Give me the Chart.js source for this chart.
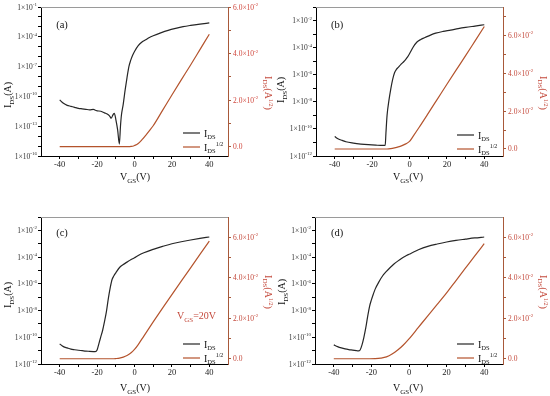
<!DOCTYPE html>
<html>
<head>
<meta charset="utf-8">
<script src="https://cdn.jsdelivr.net/npm/chart.js@4/dist/chart.umd.min.js"></script>
<style>
  body { margin: 0; background: #fff; }
  .painel { position: absolute; width: 275px; height: 198px; }
</style>
</head>
<body>
<div class="painel" style="left:0;top:0"><canvas id="graficoA" width="275" height="198"></canvas></div>
<div class="painel" style="left:275px;top:0"><canvas id="graficoB" width="275" height="198"></canvas></div>
<div class="painel" style="left:0;top:198px"><canvas id="graficoC" width="275" height="198"></canvas></div>
<div class="painel" style="left:275px;top:198px"><canvas id="graficoD" width="275" height="198"></canvas></div>
<script>
// ---- dados ----
const vgsA = [-40,-38,-36,-34,-32,-30,-28,-26,-24,-22,-21,-20,-18,-16,-14,-13,-12.5,-11.5,-10.8,-10,-9,-8.1,-7.5,-7,-6,-5,-4,-3,-2,-1,0,2,4,6,8,10,14,18,22,26,30,35,40];
const idsA = [4.5e-11,2.0e-11,1.26e-11,1.0e-11,7.9e-12,6.3e-12,5.6e-12,5.0e-12,4.5e-12,5.0e-12,4.0e-12,3.5e-12,3.2e-12,2.2e-12,1.4e-12,8.9e-13,6.3e-13,1.4e-12,2.0e-12,5.0e-13,4.0e-14,1.6e-15,1.0e-13,1.26e-12,1.8e-11,4.5e-10,7.9e-9,1.0e-7,4.5e-7,1.4e-6,3.3e-6,1.26e-5,2.95e-5,5.0e-5,8.5e-5,1.26e-4,2.5e-4,4.5e-4,7.1e-4,1.05e-3,1.4e-3,1.9e-3,2.5e-3];
const vgsRaizA = [-40,-10,-3,-2,-1,0,2,4,6,8,10,15,20,25,30,35,40];
const raizA = [0,0,0,0.0001,0.0002,0.0005,0.0014,0.003,0.0049,0.0069,0.009,0.0156,0.0222,0.0287,0.0351,0.0417,0.0483];

const vgsB = [-40,-38,-36,-34,-30,-26,-22,-18,-14,-13,-12.6,-12,-11,-10,-9,-8,-7,-6,-4.7,-3,-2,-1,0,2,4,6,8,10,14,18,22,26,30,35,40];
const idsB = [2.75e-11,1.78e-11,1.41e-11,1.12e-11,8.9e-12,7.6e-12,6.8e-12,6.3e-12,6.0e-12,6.0e-12,5.0e-11,1.0e-9,1.26e-8,8.9e-8,4.5e-7,1.4e-6,2.5e-6,3.5e-6,5.6e-6,9.5e-6,1.38e-5,2.1e-5,3.5e-5,1.12e-4,2.6e-4,4.0e-4,5.4e-4,7.1e-4,1.17e-3,1.58e-3,1.95e-3,2.5e-3,3.1e-3,3.9e-3,4.9e-3];
const vgsRaizB = [-40,-12,-10,-8,-6,-4,-2,0,2,5,10,15,20,25,30,35,40];
const raizB = [0,0,0.0002,0.0006,0.0011,0.0018,0.0027,0.004,0.0068,0.0112,0.0188,0.0265,0.0342,0.0418,0.0493,0.057,0.0647];

const vgsC = [-40,-38,-36,-34,-32,-30,-28,-26,-24,-22,-21,-20,-19,-18,-17,-16,-15,-14,-13,-12,-11,-10,-8,-6,-4,-2,0,2,5,10,15,20,25,30,35,40];
const idsC = [3.2e-11,2.0e-11,1.6e-11,1.3e-11,1.17e-11,1.07e-11,1.0e-11,9.3e-12,8.9e-12,8.5e-12,8.3e-12,1.12e-11,3.5e-11,1.12e-10,3.5e-10,1.6e-9,8.7e-9,7.9e-8,5.0e-7,2.1e-6,4.0e-6,6.6e-6,1.66e-5,2.8e-5,4.2e-5,6.3e-5,8.9e-5,1.32e-4,2.1e-4,3.8e-4,6.3e-4,1.0e-3,1.41e-3,1.9e-3,2.5e-3,3.2e-3];
const vgsRaizC = [-40,-12,-10,-8,-6,-4,-2,0,2,5,10,15,20,25,30,35,40];
const raizC = [0,0,0.0001,0.0003,0.0008,0.0016,0.0028,0.0046,0.007,0.0112,0.0182,0.025,0.0317,0.0383,0.0449,0.0515,0.0581];

const vgsD = [-40,-38,-36,-34,-32,-30,-28,-27,-26,-25,-24,-23,-22,-21,-20,-19,-18,-16,-14,-12,-10,-8,-6,-4,-2,0,2,5,10,15,20,25,30,35,40];
const idsD = [2.7e-11,2.0e-11,1.6e-11,1.35e-11,1.2e-11,1.1e-11,1.0e-11,9.5e-12,1.12e-11,2.7e-11,1.0e-10,5.0e-10,3.5e-9,2.0e-8,6.3e-8,1.66e-7,4.0e-7,1.4e-6,4.0e-6,8.5e-6,1.66e-5,3.0e-5,5.0e-5,7.9e-5,1.17e-4,1.62e-4,2.2e-4,3.5e-4,6.3e-4,9.5e-4,1.35e-3,1.78e-3,2.2e-3,2.7e-3,3.2e-3];
const vgsRaizD = [-40,-21,-18,-15,-12,-9,-6,-3,0,5,10,15,20,25,30,35,40];
const raizD = [0,0,0.00005,0.0003,0.0009,0.0023,0.0043,0.0068,0.0098,0.0155,0.0212,0.0268,0.0325,0.0386,0.0447,0.0508,0.0568];

// ticks
const ticksX = [-40,-30,-20,-10,0,10,20,30,40];
const rotulosX = [-40,-20,0,20,40];
const expoentesA = [-16,-15,-14,-13,-12,-11,-10,-9,-8,-7,-6,-5,-4,-3,-2,-1];
const rotulosExpA = [-16,-13,-10,-7,-4,-1];
const expoentesBCD = [-12,-11,-10,-9,-8,-7,-6,-5,-4,-3,-2,-1];
const rotulosExpBCD = [-12,-10,-8,-6,-4,-2];
const ticksRaiz = [0,0.01,0.02,0.03,0.04,0.05,0.06];
const ticksRaizB = [0,0.01,0.02,0.03,0.04,0.05,0.06,0.07];
const rotulosRaiz = [0.06,0.04,0.02];

const fonte = '"Liberation Serif", "Times New Roman", serif';
const corPreta = '#262626';
const corLinhaVermelha = '#b4532c';
const corEixoDireito = '#a8593a';
const corTextoVermelho = '#c44a3c';

// desenha pedacos [texto, tamanho, deslocamento] em sequencia
function desenharTexto(ctx, partes, x, y, opt) {
  ctx.save();
  ctx.translate(x, y);
  if (opt.rot) ctx.rotate(opt.rot);
  let largura = 0;
  partes.forEach(p => { ctx.font = p[1] + 'px ' + fonte; largura += ctx.measureText(p[0]).width; });
  let cx = opt.align === 'right' ? -largura : (opt.align === 'center' ? -largura / 2 : 0);
  ctx.fillStyle = opt.cor;
  ctx.textBaseline = 'alphabetic';
  partes.forEach(p => {
    ctx.font = p[1] + 'px ' + fonte;
    ctx.fillText(p[0], cx, p[2] || 0);
    cx += ctx.measureText(p[0]).width;
  });
  ctx.restore();
}

const decoracao = {
  id: 'decoracao',
  afterDraw(chart) {
    const p = chart.config.options.plugins.decoracao;
    const { ctx, chartArea: a, scales } = chart;
    ctx.save();
    // linha de cima
    ctx.strokeStyle = '#9a9a9a';
    ctx.lineWidth = 1;
    ctx.beginPath();
    ctx.moveTo(a.left, a.top + 0.5);
    ctx.lineTo(a.right, a.top + 0.5);
    ctx.stroke();

    // rotulos eixo log
    p.rotulosExp.forEach(e => {
      const y = scales.y.getPixelForValue(Math.pow(10, e));
      desenharTexto(ctx, [['1×10', 7.5, 0], [String(e), 5, -3.5]], a.left - 4, y + 2.5, { align: 'right', cor: '#333' });
    });
    // rotulos eixo direito
    rotulosRaiz.forEach(v => {
      const y = scales.y1.getPixelForValue(v);
      desenharTexto(ctx, [[(v * 100).toFixed(1) + '×10', 7.5, 0], ['-2', 5, -3.5]], a.right + 5, y + 2.5, { cor: p.corRotulos });
    });
    desenharTexto(ctx, [['0.0', 7.5, 0]], a.right + 5, scales.y1.getPixelForValue(0) + 2.5, { cor: p.corRotulos });

    // titulos
    desenharTexto(ctx, [['V', 10, 0], ['GS', 7, 2.5], ['(V)', 10, 0]], p.tituloX[0], p.tituloX[1], { align: 'center', cor: '#111' });
    desenharTexto(ctx, [['I', 10, 0], ['DS', 7, 2.5], ['(A)', 10, 0]], p.tituloY[0], p.tituloY[1], { align: 'center', rot: -Math.PI / 2, cor: '#111' });
    desenharTexto(ctx, [['I', 10, 0], ['DS', 7, 2.5], ['(A', 10, 0], ['1/2', 6, -4], [')', 10, 0]], p.tituloY1[0], p.tituloY1[1], { align: 'center', rot: Math.PI / 2, cor: corTextoVermelho });

    // letra do painel
    desenharTexto(ctx, [[p.letra, 10.5, 0]], p.posLetra[0], p.posLetra[1], { align: 'center', cor: '#111' });

    // legenda
    const [lx, ly] = p.legenda;
    ctx.lineWidth = 1.2;
    ctx.strokeStyle = corPreta;
    ctx.beginPath(); ctx.moveTo(lx, ly); ctx.lineTo(lx + 17, ly); ctx.stroke();
    ctx.strokeStyle = corLinhaVermelha;
    ctx.beginPath(); ctx.moveTo(lx, ly + 14); ctx.lineTo(lx + 17, ly + 14); ctx.stroke();
    desenharTexto(ctx, [['I', 10, 0], ['DS', 6.5, 2.5]], lx + 21, ly + 3.5, { cor: '#111' });
    desenharTexto(ctx, [['I', 10, 0], ['DS', 6.5, 2.5], ['1/2', 6, -4.5]], lx + 21, ly + 17.5, { cor: '#111' });

    if (p.extra) {
      desenharTexto(ctx, [['V', 10, 0], ['GS', 7, 2.5], ['=20V', 10, 0]], p.extra[0], p.extra[1], { cor: corTextoVermelho });
    }
    ctx.restore();
  }
};

function montarGrafico(p) {
  const ctx = document.getElementById(p.id).getContext('2d');
  return new Chart(ctx, {
    type: 'line',
    data: {
      datasets: [
        {
          label: 'IDS',
          data: p.vgs.map((v, i) => ({ x: v, y: p.ids[i] })),
          yAxisID: 'y',
          borderColor: corPreta,
          borderWidth: 1.2,
          pointRadius: 0,
          cubicInterpolationMode: 'monotone'
        },
        {
          label: 'IDS1/2',
          data: p.vgsRaiz.map((v, i) => ({ x: v, y: p.raiz[i] })),
          yAxisID: 'y1',
          borderColor: corLinhaVermelha,
          borderWidth: 1.2,
          pointRadius: 0,
          cubicInterpolationMode: 'monotone'
        }
      ]
    },
    options: {
      responsive: false,
      animation: false,
      layout: { padding: { top: p.area.top, left: 0, right: 0, bottom: 0 } },
      plugins: {
        legend: { display: false },
        tooltip: { enabled: false },
        decoracao: p
      },
      scales: {
        x: {
          type: 'linear',
          min: -50,
          max: 50,
          afterBuildTicks: s => { s.ticks = ticksX.map(v => ({ value: v })); },
          afterFit: s => { s.height = 198 - p.area.bottom; },
          ticks: {
            autoSkip: false,
            maxRotation: 0,
            padding: 1,
            color: '#222',
            font: { family: fonte, size: 8.5 },
            callback: v => rotulosX.includes(v) ? String(v) : ''
          },
          grid: { drawOnChartArea: false, tickLength: 3, color: '#000' },
          border: { color: '#000', width: 1 }
        },
        y: {
          type: 'logarithmic',
          position: 'left',
          min: p.logMin,
          max: 1e-1,
          afterBuildTicks: s => { s.ticks = p.expoentes.map(e => ({ value: Math.pow(10, e) })); },
          afterFit: s => { s.width = p.area.left; },
          ticks: { display: false },
          grid: { drawOnChartArea: false, tickLength: 3, color: '#000' },
          border: { color: '#000', width: 1 }
        },
        y1: {
          type: 'linear',
          position: 'right',
          min: p.raizMin,
          max: p.raizMax,
          afterBuildTicks: s => { s.ticks = p.ticksRaiz.map(v => ({ value: v })); },
          afterFit: s => { s.width = 275 - p.area.right; },
          ticks: { display: false },
          grid: { drawOnChartArea: false, tickLength: 3, color: corEixoDireito },
          border: { color: corEixoDireito, width: 1 }
        }
      }
    },
    plugins: [decoracao]
  });
}

montarGrafico({
  id: 'graficoA', letra: '(a)', vgs: vgsA, ids: idsA, vgsRaiz: vgsRaizA, raiz: raizA,
  logMin: 1e-16, expoentes: expoentesA, rotulosExp: rotulosExpA,
  raizMin: -0.004, raizMax: 0.06, ticksRaiz: ticksRaiz, corRotulos: '#d0463c',
  area: { left: 41, right: 228, top: 7, bottom: 156 },
  tituloX: [135, 180], tituloY: [11, 95], tituloY1: [265, 93], posLetra: [62, 28], legenda: [183, 133]
});
montarGrafico({
  id: 'graficoB', letra: '(b)', vgs: vgsB, ids: idsB, vgsRaiz: vgsRaizB, raiz: raizB,
  logMin: 1e-12, expoentes: expoentesBCD, rotulosExp: rotulosExpBCD,
  raizMin: -0.0037, raizMax: 0.075, ticksRaiz: ticksRaizB, corRotulos: corTextoVermelho,
  area: { left: 41, right: 228, top: 7, bottom: 156 },
  tituloX: [133, 180], tituloY: [9, 90], tituloY1: [265, 93], posLetra: [62, 28], legenda: [182, 135]
});
montarGrafico({
  id: 'graficoC', letra: '(c)', vgs: vgsC, ids: idsC, vgsRaiz: vgsRaizC, raiz: raizC,
  logMin: 1e-12, expoentes: expoentesBCD, rotulosExp: rotulosExpBCD,
  raizMin: -0.0026, raizMax: 0.07, ticksRaiz: ticksRaiz, corRotulos: corTextoVermelho,
  area: { left: 41, right: 228, top: 19, bottom: 166 },
  tituloX: [135, 193], tituloY: [11, 97], tituloY1: [265, 94], posLetra: [62, 38], legenda: [183, 146],
  extra: [177, 121]
});
montarGrafico({
  id: 'graficoD', letra: '(d)', vgs: vgsD, ids: idsD, vgsRaiz: vgsRaizD, raiz: raizD,
  logMin: 1e-12, expoentes: expoentesBCD, rotulosExp: rotulosExpBCD,
  raizMin: -0.0026, raizMax: 0.07, ticksRaiz: ticksRaiz, corRotulos: corTextoVermelho,
  area: { left: 40, right: 228, top: 19, bottom: 166 },
  tituloX: [133, 193], tituloY: [10, 94], tituloY1: [265, 94], posLetra: [62, 38], legenda: [182, 146]
});
</script>
</body>
</html>
